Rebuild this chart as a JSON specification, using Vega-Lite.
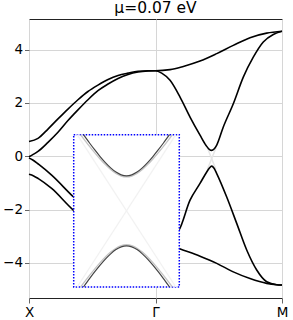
{
  "$schema": "https://vega.github.io/schema/vega-lite/v6.json",
  "autosize": "none",
  "width": 253,
  "height": 279,
  "padding": {"left": 29, "top": 19, "right": 11, "bottom": 22},
  "background": "white",
  "config": {
    "view": {"stroke": "#222", "strokeWidth": 1},
    "font": "DejaVu Sans",
    "title": {"font": "DejaVu Sans", "fontSize": 15.5, "fontWeight": "normal", "color": "#000", "offset": 3}
  },
  "title": "μ=0.07 eV",
  "datasets": {
    "bands": [
      {"band": "A", "x": 0, "e": 0.55}, {"band": "A", "x": 0.071, "e": 0.67}, {"band": "A", "x": 0.15, "e": 1.02}, {"band": "A", "x": 0.229, "e": 1.40}, {"band": "A", "x": 0.308, "e": 1.77}, {"band": "A", "x": 0.387, "e": 2.12}, {"band": "A", "x": 0.466, "e": 2.43}, {"band": "A", "x": 0.545, "e": 2.67}, {"band": "A", "x": 0.625, "e": 2.88}, {"band": "A", "x": 0.704, "e": 3.03}, {"band": "A", "x": 0.783, "e": 3.12}, {"band": "A", "x": 0.862, "e": 3.19}, {"band": "A", "x": 0.941, "e": 3.21}, {"band": "A", "x": 1.0, "e": 3.21}, {"band": "A", "x": 1.115, "e": 3.25}, {"band": "A", "x": 1.22, "e": 3.37}, {"band": "A", "x": 1.352, "e": 3.57}, {"band": "A", "x": 1.484, "e": 3.85}, {"band": "A", "x": 1.615, "e": 4.16}, {"band": "A", "x": 1.747, "e": 4.45}, {"band": "A", "x": 1.879, "e": 4.62}, {"band": "A", "x": 2.0, "e": 4.69},
      {"band": "B", "x": 0, "e": -0.02}, {"band": "B", "x": 0.03, "e": 0.06}, {"band": "B", "x": 0.071, "e": 0.18}, {"band": "B", "x": 0.15, "e": 0.52}, {"band": "B", "x": 0.229, "e": 0.90}, {"band": "B", "x": 0.308, "e": 1.34}, {"band": "B", "x": 0.387, "e": 1.74}, {"band": "B", "x": 0.466, "e": 2.12}, {"band": "B", "x": 0.545, "e": 2.46}, {"band": "B", "x": 0.625, "e": 2.71}, {"band": "B", "x": 0.704, "e": 2.92}, {"band": "B", "x": 0.783, "e": 3.07}, {"band": "B", "x": 0.862, "e": 3.16}, {"band": "B", "x": 0.941, "e": 3.20}, {"band": "B", "x": 1.0, "e": 3.21}, {"band": "B", "x": 1.049, "e": 3.12}, {"band": "B", "x": 1.115, "e": 2.85}, {"band": "B", "x": 1.194, "e": 2.22}, {"band": "B", "x": 1.273, "e": 1.47}, {"band": "B", "x": 1.352, "e": 0.79}, {"band": "B", "x": 1.40, "e": 0.40}, {"band": "B", "x": 1.425, "e": 0.26}, {"band": "B", "x": 1.444, "e": 0.22}, {"band": "B", "x": 1.463, "e": 0.27}, {"band": "B", "x": 1.484, "e": 0.42}, {"band": "B", "x": 1.536, "e": 1.10}, {"band": "B", "x": 1.615, "e": 1.97}, {"band": "B", "x": 1.694, "e": 2.97}, {"band": "B", "x": 1.773, "e": 3.72}, {"band": "B", "x": 1.852, "e": 4.29}, {"band": "B", "x": 1.931, "e": 4.57}, {"band": "B", "x": 2.0, "e": 4.69},
      {"band": "C", "x": 0, "e": -0.06}, {"band": "C", "x": 0.03, "e": -0.14}, {"band": "C", "x": 0.075, "e": -0.30}, {"band": "C", "x": 0.179, "e": -0.71}, {"band": "C", "x": 0.35, "e": -1.52}, {"band": "C", "x": 0.5, "e": -2.15}, {"band": "C", "x": 0.7, "e": -2.8}, {"band": "C", "x": 0.9, "e": -3.15}, {"band": "C", "x": 1.0, "e": -3.21}, {"band": "C", "x": 1.1, "e": -3.1}, {"band": "C", "x": 1.186, "e": -2.77}, {"band": "C", "x": 1.273, "e": -1.65}, {"band": "C", "x": 1.352, "e": -1.02}, {"band": "C", "x": 1.405, "e": -0.59}, {"band": "C", "x": 1.425, "e": -0.45}, {"band": "C", "x": 1.444, "e": -0.37}, {"band": "C", "x": 1.463, "e": -0.45}, {"band": "C", "x": 1.484, "e": -0.65}, {"band": "C", "x": 1.563, "e": -1.53}, {"band": "C", "x": 1.642, "e": -2.52}, {"band": "C", "x": 1.721, "e": -3.52}, {"band": "C", "x": 1.8, "e": -4.27}, {"band": "C", "x": 1.879, "e": -4.71}, {"band": "C", "x": 1.958, "e": -4.82}, {"band": "C", "x": 2.0, "e": -4.83},
      {"band": "D", "x": 0, "e": -0.68}, {"band": "D", "x": 0.037, "e": -0.74}, {"band": "D", "x": 0.074, "e": -0.84}, {"band": "D", "x": 0.179, "e": -1.21}, {"band": "D", "x": 0.35, "e": -2.02}, {"band": "D", "x": 0.5, "e": -2.55}, {"band": "D", "x": 0.7, "e": -3.0}, {"band": "D", "x": 0.9, "e": -3.2}, {"band": "D", "x": 1.0, "e": -3.22}, {"band": "D", "x": 1.1, "e": -3.3}, {"band": "D", "x": 1.186, "e": -3.46}, {"band": "D", "x": 1.352, "e": -3.75}, {"band": "D", "x": 1.484, "e": -4.02}, {"band": "D", "x": 1.615, "e": -4.34}, {"band": "D", "x": 1.747, "e": -4.59}, {"band": "D", "x": 1.879, "e": -4.77}, {"band": "D", "x": 1.958, "e": -4.82}, {"band": "D", "x": 2.0, "e": -4.83}
    ],
    "faint": [
      {"seg": "f1", "x": 1.41, "e": 0.32}, {"seg": "f1", "x": 1.478, "e": -0.50},
      {"seg": "f2", "x": 1.41, "e": -0.50}, {"seg": "f2", "x": 1.478, "e": 0.32}
    ],
    "inset": [
      {"curve": "xa", "k": -0.9346, "w": -1.0}, {"curve": "xa", "k": 0.9346, "w": 1.0},
      {"curve": "xb", "k": -0.9346, "w": 1.0}, {"curve": "xb", "k": 0.9346, "w": -1.0},
      {"curve": "gu", "k": -0.8694, "w": 1.0}, {"curve": "gu", "k": -0.8, "w": 0.9365}, {"curve": "gu", "k": -0.7, "w": 0.8473}, {"curve": "gu", "k": -0.6, "w": 0.7616}, {"curve": "gu", "k": -0.5, "w": 0.6807}, {"curve": "gu", "k": -0.4, "w": 0.6065}, {"curve": "gu", "k": -0.3, "w": 0.5418}, {"curve": "gu", "k": -0.2, "w": 0.4903}, {"curve": "gu", "k": -0.1, "w": 0.4567}, {"curve": "gu", "k": 0, "w": 0.445}, {"curve": "gu", "k": 0.1, "w": 0.4567}, {"curve": "gu", "k": 0.2, "w": 0.4903}, {"curve": "gu", "k": 0.3, "w": 0.5418}, {"curve": "gu", "k": 0.4, "w": 0.6065}, {"curve": "gu", "k": 0.5, "w": 0.6807}, {"curve": "gu", "k": 0.6, "w": 0.7616}, {"curve": "gu", "k": 0.7, "w": 0.8473}, {"curve": "gu", "k": 0.8, "w": 0.9365}, {"curve": "gu", "k": 0.8694, "w": 1.0},
      {"curve": "gl", "k": -0.8694, "w": -1.0}, {"curve": "gl", "k": -0.8, "w": -0.9365}, {"curve": "gl", "k": -0.7, "w": -0.8473}, {"curve": "gl", "k": -0.6, "w": -0.7616}, {"curve": "gl", "k": -0.5, "w": -0.6807}, {"curve": "gl", "k": -0.4, "w": -0.6065}, {"curve": "gl", "k": -0.3, "w": -0.5418}, {"curve": "gl", "k": -0.2, "w": -0.4903}, {"curve": "gl", "k": -0.1, "w": -0.4567}, {"curve": "gl", "k": 0, "w": -0.445}, {"curve": "gl", "k": 0.1, "w": -0.4567}, {"curve": "gl", "k": 0.2, "w": -0.4903}, {"curve": "gl", "k": 0.3, "w": -0.5418}, {"curve": "gl", "k": 0.4, "w": -0.6065}, {"curve": "gl", "k": 0.5, "w": -0.6807}, {"curve": "gl", "k": 0.6, "w": -0.7616}, {"curve": "gl", "k": 0.7, "w": -0.8473}, {"curve": "gl", "k": 0.8, "w": -0.9365}, {"curve": "gl", "k": 0.8694, "w": -1.0}
    ],
    "insetdark": [
      {"curve": "du", "k": -0.8146, "w": 1.0}, {"curve": "du", "k": -0.7, "w": 0.8909}, {"curve": "du", "k": -0.6, "w": 0.7996}, {"curve": "du", "k": -0.5, "w": 0.7132}, {"curve": "du", "k": -0.4, "w": 0.6338}, {"curve": "du", "k": -0.3, "w": 0.5644}, {"curve": "du", "k": -0.2, "w": 0.509}, {"curve": "du", "k": -0.1, "w": 0.4728}, {"curve": "du", "k": 0, "w": 0.46}, {"curve": "du", "k": 0.1, "w": 0.4728}, {"curve": "du", "k": 0.2, "w": 0.509}, {"curve": "du", "k": 0.3, "w": 0.5644}, {"curve": "du", "k": 0.4, "w": 0.6338}, {"curve": "du", "k": 0.5, "w": 0.7132}, {"curve": "du", "k": 0.6, "w": 0.7996}, {"curve": "du", "k": 0.7, "w": 0.8909}, {"curve": "du", "k": 0.8146, "w": 1.0},
      {"curve": "dl", "k": -0.8146, "w": -1.0}, {"curve": "dl", "k": -0.7, "w": -0.8909}, {"curve": "dl", "k": -0.6, "w": -0.7996}, {"curve": "dl", "k": -0.5, "w": -0.7132}, {"curve": "dl", "k": -0.4, "w": -0.6338}, {"curve": "dl", "k": -0.3, "w": -0.5644}, {"curve": "dl", "k": -0.2, "w": -0.509}, {"curve": "dl", "k": -0.1, "w": -0.4728}, {"curve": "dl", "k": 0, "w": -0.46}, {"curve": "dl", "k": 0.1, "w": -0.4728}, {"curve": "dl", "k": 0.2, "w": -0.509}, {"curve": "dl", "k": 0.3, "w": -0.5644}, {"curve": "dl", "k": 0.4, "w": -0.6338}, {"curve": "dl", "k": 0.5, "w": -0.7132}, {"curve": "dl", "k": 0.6, "w": -0.7996}, {"curve": "dl", "k": 0.7, "w": -0.8909}, {"curve": "dl", "k": 0.8146, "w": -1.0}
    ],
    "box": [{"k0": -1, "k1": 1, "w0": -1, "w1": 1}]
  },
  "layer": [
    {
      "layer": [
        {
          "data": {"name": "faint"},
          "mark": {"type": "line", "color": "#e6e6e6", "strokeWidth": 1.5},
          "encoding": {
            "x": {"field": "x", "type": "quantitative", "scale": {"domain": [0, 2], "nice": false, "zero": false},
              "axis": {"values": [0, 1, 2], "labelExpr": "datum.value == 0 ? 'X' : (datum.value == 1 ? 'Γ' : 'M')", "title": null, "domain": false, "labelFont": "DejaVu Sans", "labelFontSize": 13.5, "labelColor": "#000", "labelFlush": false, "labelOverlap": false, "tickColor": "#666", "tickSize": 5, "labelPadding": 2, "gridColor": "#d6d6d6", "gridWidth": 1}},
            "y": {"field": "e", "type": "quantitative", "scale": {"domain": [-5.32, 5.15], "nice": false, "zero": false},
              "axis": {"values": [-4, -2, 0, 2, 4], "title": null, "domain": false, "labelFont": "DejaVu Sans", "labelFontSize": 13.5, "labelColor": "#000", "labelOverlap": false, "labelFlush": false, "tickColor": "#666", "tickSize": 4.5, "labelPadding": 2, "gridColor": "#d6d6d6", "gridWidth": 1}},
            "detail": {"field": "seg"}
          }
        },
        {
          "data": {"name": "bands"},
          "mark": {"type": "line", "color": "#000", "strokeWidth": 1.6, "interpolate": "monotone"},
          "encoding": {
            "x": {"field": "x", "type": "quantitative"},
            "y": {"field": "e", "type": "quantitative"},
            "detail": {"field": "band"}
          }
        }
      ]
    },
    {
      "layer": [
        {
          "data": {"name": "box"},
          "mark": {"type": "rect", "fill": "white", "stroke": "#0000ff", "strokeWidth": 1.5, "strokeDash": [1.5, 1.5]},
          "encoding": {
            "x": {"field": "k0", "type": "quantitative", "scale": {"domain": [-1, 1], "range": [44.7, 150.3], "nice": false, "zero": false}, "axis": null},
            "x2": {"field": "k1"},
            "y": {"field": "w0", "type": "quantitative", "scale": {"domain": [-1, 1], "range": [268, 115.7], "nice": false, "zero": false}, "axis": null},
            "y2": {"field": "w1"}
          }
        },
        {
          "data": {"name": "inset"},
          "mark": {"type": "line", "strokeWidth": 1.3, "interpolate": "monotone"},
          "encoding": {
            "x": {"field": "k", "type": "quantitative"},
            "y": {"field": "w", "type": "quantitative"},
            "detail": {"field": "curve"},
            "color": {"field": "curve", "type": "nominal", "scale": {"domain": ["xa", "xb", "gu", "gl"], "range": ["#f2f2f2", "#f2f2f2", "#c4c4c4", "#c4c4c4"]}, "legend": null}
          }
        },
        {
          "data": {"name": "insetdark"},
          "mark": {"type": "line", "strokeWidth": 1.2, "color": "#444", "interpolate": "monotone"},
          "encoding": {
            "x": {"field": "k", "type": "quantitative"},
            "y": {"field": "w", "type": "quantitative"},
            "detail": {"field": "curve"}
          }
        }
      ]
    }
  ],
  "resolve": {"scale": {"x": "independent", "y": "independent"}, "axis": {"x": "independent", "y": "independent"}}
}
